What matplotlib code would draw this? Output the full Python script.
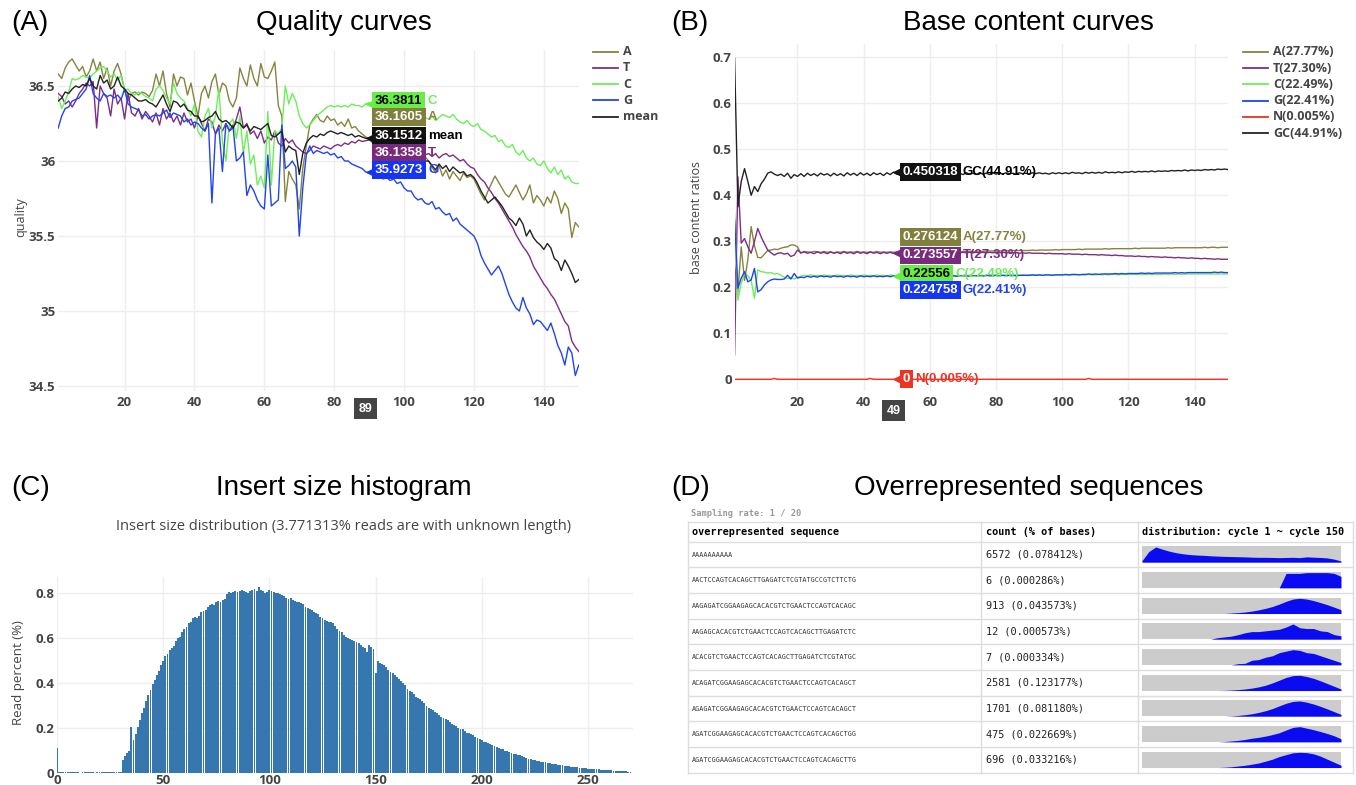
import matplotlib
matplotlib.use('Agg')
import matplotlib.pyplot as plt
import matplotlib.transforms as mtransforms

plt.rcParams['font.family'] = ['Open Sans', 'DejaVu Sans']

W, H = 1356, 785

# ---------------- (A) quality curves ----------------
cycles = list(range(1, 151))

qual_A = [
    36.58, 36.55, 36.62, 36.66, 36.68, 36.64, 36.60, 36.63, 36.56, 36.60,
    36.68, 36.60, 36.66, 36.55, 36.62, 36.50, 36.60, 36.65, 36.58, 36.47,
    36.40, 36.45, 36.46, 36.44, 36.46, 36.45, 36.43, 36.47, 36.58, 36.50,
    36.60, 36.45, 36.36, 36.58, 36.50, 36.56, 36.55, 36.44, 36.52, 36.40,
    36.30, 36.45, 36.50, 36.42, 36.53, 36.58, 36.44, 36.52, 36.50, 36.40,
    36.36, 36.42, 36.62, 36.55, 36.50, 36.64, 36.55, 36.50, 36.65, 36.56,
    36.55, 36.60, 36.66, 36.37, 36.30, 35.73, 35.93, 35.88, 35.84, 35.68,
    35.95, 36.10, 36.24, 36.28, 36.31, 36.27, 36.26, 36.30, 36.27, 36.28,
    36.24, 36.26, 36.23, 36.28, 36.22, 36.23, 36.20, 36.18, 36.1605, 36.15,
    36.12, 36.14, 36.10, 36.12, 36.08, 36.10, 36.06, 36.08, 36.05, 36.07,
    36.04, 36.06, 36.03, 36.05, 36.02, 36.03, 36.00, 35.96, 35.92, 35.97,
    35.90, 35.94, 35.88, 35.93, 35.90, 35.87, 35.92, 35.89, 35.90, 35.88,
    35.83, 35.78, 35.74, 35.80, 35.85, 35.90, 35.86, 35.82, 35.78, 35.76,
    35.80, 35.84, 35.79, 35.74, 35.78, 35.84, 35.72, 35.77, 35.74, 35.70,
    35.76, 35.72, 35.80, 35.75, 35.65, 35.72, 35.68, 35.49, 35.59, 35.56,
]
qual_T = [
    36.45, 36.43, 36.38, 36.40, 36.36, 36.40, 36.45, 36.48, 36.52, 36.50,
    36.53, 36.22, 36.50, 36.45, 36.42, 36.30, 36.48, 36.38, 36.42, 36.28,
    36.45, 36.32, 36.30, 36.35, 36.28, 36.33, 36.30, 36.26, 36.32, 36.24,
    36.35, 36.28, 36.32, 36.26, 36.30, 36.24, 36.32, 36.26, 36.28, 36.22,
    36.30, 36.25, 36.20, 36.28, 36.26, 36.18, 36.24, 36.20, 36.25, 36.20,
    36.22, 36.28, 36.36, 36.22, 36.25, 36.18, 36.20, 36.15, 36.20, 36.12,
    36.16, 36.14, 36.20, 36.12, 36.10, 36.15, 36.12, 36.14, 36.10, 36.08,
    36.06, 36.05, 36.07, 36.10, 36.09, 36.08, 36.10, 36.09, 36.08, 36.10,
    36.11, 36.10, 36.12, 36.11, 36.13, 36.12, 36.14, 36.13, 36.1358, 36.14,
    36.13, 36.12, 36.11, 36.10, 36.09, 36.08, 36.08, 36.07, 36.06, 36.07,
    36.05, 36.06, 36.05, 36.04, 36.06, 36.04, 36.05, 36.03, 36.05, 36.02,
    36.04, 36.05, 36.03, 36.04, 36.02, 36.00, 36.01, 35.98, 35.96, 35.95,
    35.91, 35.88, 35.86, 35.82, 35.79, 35.75, 35.72, 35.68, 35.64, 35.60,
    35.56, 35.51, 35.47, 35.43, 35.40, 35.36, 35.30, 35.26, 35.22, 35.18,
    35.15, 35.11, 35.08, 35.03, 34.98, 34.93, 34.90, 34.80, 34.76, 34.73,
]
qual_C = [
    36.43, 36.35, 36.40, 36.46, 36.55, 36.54, 36.55, 36.57, 36.56, 36.55,
    36.58, 36.60, 36.62, 36.63, 36.60, 36.56, 36.58, 36.54, 36.57, 36.47,
    36.48, 36.45, 36.44, 36.46, 36.45, 36.43, 36.42, 36.40, 36.48, 36.50,
    36.47, 36.42, 36.38, 36.52, 36.45, 36.42, 36.40, 36.35, 36.30, 36.38,
    36.20, 36.16, 36.30, 36.35, 36.22, 36.30, 36.48, 36.13, 36.00, 36.25,
    36.28, 36.15, 36.30, 36.05, 36.20, 35.98, 36.04, 35.84, 35.90, 35.82,
    36.33, 35.84, 36.20, 36.18, 36.22, 36.50, 36.38, 36.45, 36.40, 36.30,
    36.25, 36.22, 36.24, 36.27, 36.30, 36.32, 36.34, 36.36, 36.37, 36.36,
    36.37, 36.36, 36.37, 36.36, 36.38, 36.37, 36.37, 36.36, 36.3811, 36.39,
    36.37, 36.36, 36.34, 36.35, 36.33, 36.34, 36.31, 36.33, 36.30, 36.32,
    36.29, 36.31, 36.28, 36.30, 36.27, 36.29, 36.28, 36.30, 36.27, 36.29,
    36.31, 36.30, 36.29, 36.31, 36.28, 36.26, 36.25, 36.27, 36.24, 36.23,
    36.25, 36.21, 36.20, 36.18, 36.16, 36.17, 36.13, 36.14, 36.10, 36.09,
    36.11, 36.06, 36.04, 36.07, 36.02, 36.00, 36.02, 35.98, 35.97, 36.00,
    35.95, 35.92, 35.96, 35.91, 35.94, 35.88, 35.90, 35.86, 35.85, 35.85,
]
qual_G = [
    36.22, 36.30, 36.35, 36.36, 36.40, 36.41, 36.42, 36.45, 36.48, 36.57,
    36.45, 36.42, 36.40, 36.45, 36.43, 36.44, 36.42, 36.44, 36.41, 36.48,
    36.38, 36.36, 36.35, 36.34, 36.30, 36.31, 36.28, 36.30, 36.31, 36.30,
    36.32, 36.34, 36.29, 36.32, 36.31, 36.30, 36.26, 36.28, 36.24, 36.26,
    36.25, 36.22, 36.20, 36.25, 35.72, 36.18, 36.22, 35.93, 36.25, 36.20,
    36.24, 36.00, 36.02, 36.06, 35.77, 35.84, 35.80, 35.74, 35.70, 35.68,
    36.04, 35.70, 35.72, 35.74, 36.24, 35.95, 35.97, 36.00, 35.96, 35.50,
    35.82, 36.04, 36.10, 36.05, 36.07, 36.06, 36.05, 36.06, 36.04, 36.05,
    36.02, 36.03, 36.00, 36.00, 35.98, 35.97, 35.96, 35.95, 35.9273, 35.92,
    35.91, 35.90, 35.90, 35.88, 35.89, 35.87, 35.88, 35.85, 35.86, 35.82,
    35.80, 35.80, 35.76, 35.74, 35.75, 35.72, 35.71, 35.73, 35.68, 35.69,
    35.66, 35.64, 35.65, 35.60, 35.62, 35.58, 35.56, 35.54, 35.52, 35.50,
    35.45, 35.37, 35.32, 35.28, 35.24, 35.27, 35.30, 35.25, 35.18, 35.11,
    35.06, 35.02, 35.00, 35.09, 35.02, 34.98, 34.91, 34.94, 34.93, 34.90,
    34.87, 34.92, 34.85, 34.77, 34.72, 34.64, 34.76, 34.72, 34.57, 34.64,
]
qual_mean = [
    36.40, 36.42, 36.46, 36.45, 36.48, 36.50, 36.49, 36.51, 36.50, 36.55,
    36.50, 36.48, 36.57, 36.52, 36.54, 36.48, 36.50, 36.56, 36.50, 36.48,
    36.45, 36.44, 36.42, 36.40, 36.40, 36.41, 36.39, 36.38, 36.36, 36.40,
    36.44, 36.38, 36.33, 36.40, 36.39, 36.36, 36.38, 36.34, 36.33, 36.30,
    36.30, 36.26, 36.27, 36.29, 36.30, 36.33, 36.28, 36.26, 36.27, 36.25,
    36.22, 36.26, 36.25, 36.22, 36.24, 36.20, 36.23, 36.22, 36.21, 36.23,
    36.25, 36.17, 36.16, 36.18, 36.20, 36.06, 36.10, 36.08, 36.07, 35.91,
    36.05, 36.12, 36.15, 36.17, 36.16, 36.18, 36.17, 36.19, 36.20, 36.19,
    36.18, 36.19, 36.18, 36.17, 36.18, 36.16, 36.17, 36.16, 36.1512, 36.15,
    36.13, 36.14, 36.12, 36.11, 36.10, 36.09, 36.10, 36.08, 36.07, 36.06,
    36.05, 36.04, 36.03, 36.02, 36.01, 36.00, 36.00, 35.97, 35.94, 35.98,
    35.95, 35.97, 35.93, 35.96, 35.94, 35.92, 35.93, 35.90, 35.91, 35.89,
    35.85, 35.80, 35.76, 35.72, 35.74, 35.76, 35.73, 35.70, 35.66, 35.62,
    35.60, 35.57, 35.62, 35.58, 35.50, 35.54, 35.49, 35.46, 35.44, 35.41,
    35.45, 35.42, 35.35, 35.33, 35.27, 35.34, 35.30, 35.25, 35.19, 35.21,
]

# ---------------- (B) base content curves ----------------
base_A = [
    0.245, 0.190, 0.288, 0.215, 0.260, 0.332, 0.290, 0.265, 0.264, 0.272,
    0.280, 0.281, 0.283, 0.282, 0.285, 0.287, 0.288, 0.292, 0.292, 0.288,
    0.274, 0.278, 0.277, 0.276, 0.278, 0.277, 0.276, 0.278, 0.276, 0.277,
    0.275, 0.277, 0.276, 0.278, 0.276, 0.277, 0.276, 0.278, 0.276, 0.277,
    0.276, 0.277, 0.276, 0.278, 0.276, 0.277, 0.276, 0.277, 0.2761, 0.277,
    0.276, 0.277, 0.277, 0.276, 0.277, 0.277, 0.276, 0.277, 0.277, 0.277,
    0.277, 0.278, 0.277, 0.277, 0.278, 0.277, 0.278, 0.278, 0.277, 0.278,
    0.278, 0.278, 0.278, 0.278, 0.279, 0.278, 0.279, 0.279, 0.279, 0.279,
    0.279, 0.279, 0.280, 0.279, 0.280, 0.280, 0.280, 0.280, 0.280, 0.280,
    0.281, 0.280, 0.281, 0.281, 0.281, 0.281, 0.281, 0.282, 0.281, 0.282,
    0.282, 0.282, 0.282, 0.282, 0.283, 0.282, 0.283, 0.283, 0.283, 0.283,
    0.283, 0.283, 0.284, 0.283, 0.284, 0.284, 0.284, 0.284, 0.284, 0.284,
    0.284, 0.285, 0.284, 0.285, 0.285, 0.285, 0.285, 0.285, 0.285, 0.285,
    0.285, 0.286, 0.285, 0.286, 0.286, 0.286, 0.286, 0.286, 0.286, 0.286,
    0.286, 0.286, 0.287, 0.286, 0.287, 0.287, 0.286, 0.287, 0.287, 0.287,
]
base_T = [
    0.053, 0.440, 0.296, 0.306, 0.288, 0.274, 0.300, 0.328, 0.310, 0.295,
    0.281, 0.275, 0.270, 0.274, 0.275, 0.272, 0.274, 0.267, 0.270, 0.281,
    0.275, 0.277, 0.274, 0.276, 0.273, 0.277, 0.274, 0.276, 0.273, 0.277,
    0.274, 0.276, 0.273, 0.277, 0.274, 0.276, 0.273, 0.277, 0.274, 0.276,
    0.273, 0.277, 0.274, 0.276, 0.273, 0.276, 0.274, 0.276, 0.2736, 0.276,
    0.274, 0.276, 0.274, 0.276, 0.274, 0.276, 0.274, 0.276, 0.275, 0.276,
    0.274, 0.276, 0.274, 0.276, 0.275, 0.276, 0.274, 0.276, 0.275, 0.276,
    0.275, 0.276, 0.275, 0.276, 0.275, 0.276, 0.275, 0.276, 0.275, 0.276,
    0.275, 0.276, 0.275, 0.275, 0.275, 0.276, 0.274, 0.275, 0.274, 0.275,
    0.274, 0.274, 0.274, 0.274, 0.273, 0.274, 0.273, 0.273, 0.273, 0.273,
    0.272, 0.273, 0.272, 0.272, 0.272, 0.271, 0.272, 0.271, 0.271, 0.271,
    0.270, 0.271, 0.270, 0.270, 0.269, 0.270, 0.269, 0.269, 0.268, 0.268,
    0.268, 0.267, 0.268, 0.267, 0.267, 0.266, 0.267, 0.266, 0.266, 0.265,
    0.266, 0.265, 0.265, 0.264, 0.265, 0.264, 0.264, 0.263, 0.264, 0.263,
    0.263, 0.262, 0.263, 0.262, 0.262, 0.261, 0.262, 0.261, 0.261, 0.261,
]
base_C = [
    0.361, 0.172, 0.209, 0.230, 0.225, 0.215, 0.176, 0.238, 0.234, 0.233,
    0.231, 0.232, 0.229, 0.230, 0.226, 0.222, 0.219, 0.221, 0.218, 0.222,
    0.224, 0.226, 0.224, 0.227, 0.225, 0.226, 0.224, 0.227, 0.225, 0.226,
    0.224, 0.227, 0.225, 0.226, 0.224, 0.227, 0.225, 0.226, 0.224, 0.227,
    0.225, 0.226, 0.224, 0.227, 0.225, 0.226, 0.224, 0.227, 0.2256, 0.225,
    0.226, 0.225, 0.226, 0.225, 0.226, 0.225, 0.226, 0.225, 0.226, 0.225,
    0.226, 0.225, 0.226, 0.225, 0.226, 0.225, 0.226, 0.225, 0.226, 0.225,
    0.226, 0.226, 0.226, 0.225, 0.226, 0.226, 0.226, 0.226, 0.226, 0.226,
    0.226, 0.226, 0.227, 0.226, 0.226, 0.227, 0.226, 0.227, 0.226, 0.227,
    0.226, 0.227, 0.227, 0.226, 0.227, 0.227, 0.227, 0.227, 0.227, 0.227,
    0.227, 0.227, 0.227, 0.227, 0.228, 0.227, 0.227, 0.228, 0.227, 0.227,
    0.228, 0.227, 0.228, 0.227, 0.228, 0.228, 0.227, 0.228, 0.228, 0.228,
    0.228, 0.228, 0.228, 0.228, 0.228, 0.228, 0.228, 0.228, 0.228, 0.228,
    0.229, 0.228, 0.229, 0.228, 0.229, 0.228, 0.229, 0.229, 0.229, 0.229,
    0.229, 0.229, 0.229, 0.229, 0.229, 0.229, 0.229, 0.229, 0.229, 0.229,
]
base_G = [
    0.346, 0.198, 0.220, 0.234, 0.212, 0.216, 0.241, 0.190, 0.195, 0.205,
    0.212, 0.216, 0.218, 0.217, 0.217, 0.218, 0.226, 0.218, 0.230, 0.220,
    0.222, 0.221, 0.224, 0.222, 0.224, 0.222, 0.225, 0.223, 0.224, 0.222,
    0.225, 0.223, 0.224, 0.222, 0.225, 0.223, 0.224, 0.222, 0.225, 0.223,
    0.224, 0.223, 0.225, 0.223, 0.224, 0.223, 0.225, 0.223, 0.2248, 0.224,
    0.225, 0.224, 0.225, 0.224, 0.225, 0.224, 0.225, 0.224, 0.225, 0.224,
    0.225, 0.224, 0.225, 0.224, 0.225, 0.224, 0.225, 0.224, 0.225, 0.225,
    0.225, 0.224, 0.225, 0.225, 0.225, 0.224, 0.226, 0.225, 0.225, 0.226,
    0.225, 0.226, 0.225, 0.226, 0.226, 0.225, 0.226, 0.226, 0.226, 0.226,
    0.227, 0.226, 0.227, 0.226, 0.227, 0.227, 0.226, 0.227, 0.227, 0.227,
    0.228, 0.227, 0.228, 0.228, 0.227, 0.228, 0.228, 0.229, 0.228, 0.229,
    0.228, 0.229, 0.229, 0.229, 0.229, 0.230, 0.229, 0.230, 0.229, 0.230,
    0.230, 0.230, 0.230, 0.231, 0.230, 0.231, 0.230, 0.231, 0.231, 0.231,
    0.231, 0.231, 0.231, 0.232, 0.231, 0.232, 0.231, 0.232, 0.232, 0.232,
    0.232, 0.232, 0.232, 0.232, 0.232, 0.233, 0.232, 0.233, 0.232, 0.232,
]
base_N = [
    0, 0, 0, 0, 0, 0, 0, 0, 0, 0,
    0, 0, 0.002, 0, 0, 0, 0, 0, 0, 0,
    0, 0, 0, 0, 0, 0, 0, 0, 0, 0,
    0, 0, 0, 0, 0, 0, 0, 0, 0, 0,
    0, 0.002, 0, 0, 0, 0, 0, 0, 0, 0,
    0, 0, 0, 0, 0, 0, 0, 0, 0, 0,
    0, 0, 0, 0, 0, 0, 0, 0, 0, 0,
    0, 0, 0, 0, 0, 0, 0, 0, 0, 0,
    0, 0, 0, 0, 0, 0, 0, 0, 0, 0,
    0, 0, 0, 0, 0, 0, 0, 0, 0, 0,
    0, 0, 0, 0, 0, 0, 0, 0.002, 0, 0,
    0, 0, 0, 0, 0, 0, 0, 0, 0, 0,
    0, 0, 0, 0, 0, 0, 0, 0, 0, 0,
    0, 0, 0, 0, 0, 0, 0, 0, 0, 0,
    0, 0, 0, 0, 0, 0, 0, 0, 0, 0,
]
base_GC = [
    0.698, 0.375, 0.430, 0.458, 0.430, 0.400, 0.419, 0.408, 0.425, 0.435,
    0.448, 0.451, 0.446, 0.443, 0.446, 0.441, 0.448, 0.437, 0.445, 0.441,
    0.447, 0.441, 0.448, 0.443, 0.447, 0.442, 0.448, 0.444, 0.447, 0.442,
    0.448, 0.443, 0.447, 0.442, 0.449, 0.444, 0.448, 0.443, 0.449, 0.444,
    0.448, 0.443, 0.449, 0.445, 0.448, 0.443, 0.449, 0.445, 0.4503, 0.446,
    0.449, 0.445, 0.448, 0.444, 0.449, 0.445, 0.448, 0.444, 0.449, 0.445,
    0.448, 0.444, 0.449, 0.445, 0.448, 0.444, 0.449, 0.445, 0.448, 0.445,
    0.449, 0.446, 0.448, 0.445, 0.449, 0.446, 0.448, 0.445, 0.449, 0.446,
    0.448, 0.446, 0.449, 0.447, 0.448, 0.446, 0.449, 0.447, 0.448, 0.446,
    0.449, 0.447, 0.449, 0.447, 0.448, 0.446, 0.449, 0.447, 0.449, 0.447,
    0.449, 0.447, 0.450, 0.448, 0.449, 0.447, 0.450, 0.448, 0.450, 0.448,
    0.450, 0.448, 0.451, 0.449, 0.450, 0.449, 0.451, 0.449, 0.451, 0.450,
    0.452, 0.450, 0.452, 0.451, 0.452, 0.451, 0.453, 0.451, 0.453, 0.452,
    0.453, 0.452, 0.454, 0.453, 0.454, 0.453, 0.455, 0.453, 0.455, 0.454,
    0.455, 0.454, 0.456, 0.455, 0.456, 0.455, 0.457, 0.456, 0.457, 0.456,
]

# ---------------- (C) insert size histogram ----------------
insert_size = list(range(0, 271))
read_percent = [
    0.110,
    0.006, 0.004, 0.004, 0.003, 0.005, 0.003, 0.003, 0.004, 0.003, 0.003,
    0.002, 0.003, 0.003, 0.004, 0.003, 0.003, 0.003, 0.002, 0.003, 0.003,
    0.003, 0.003, 0.003, 0.003, 0.003, 0.003, 0.003, 0.003, 0.003, 0.003,
    0.060, 0.075, 0.090, 0.100, 0.205, 0.148, 0.175, 0.205, 0.235, 0.265,
    0.290, 0.320, 0.345, 0.370, 0.395, 0.415, 0.435, 0.455, 0.480, 0.500,
    0.520, 0.530, 0.545, 0.555, 0.565, 0.585, 0.600, 0.605, 0.625, 0.640,
    0.650, 0.665, 0.670, 0.690, 0.695, 0.690, 0.700, 0.715, 0.720, 0.725,
    0.740, 0.745, 0.750, 0.745, 0.760, 0.765, 0.760, 0.770, 0.775, 0.795,
    0.805, 0.800, 0.805, 0.810, 0.805, 0.810, 0.815, 0.810, 0.805, 0.800,
    0.810, 0.815, 0.820, 0.810, 0.828, 0.815, 0.810, 0.800, 0.805, 0.815,
    0.810, 0.805, 0.800, 0.800, 0.795, 0.790, 0.785, 0.780, 0.775, 0.780,
    0.770, 0.765, 0.760, 0.760, 0.755, 0.750, 0.740, 0.735, 0.730, 0.725,
    0.715, 0.710, 0.705, 0.695, 0.690, 0.680, 0.675, 0.670, 0.670, 0.665,
    0.655, 0.640, 0.630, 0.625, 0.615, 0.605, 0.600, 0.595, 0.590, 0.585,
    0.584, 0.578, 0.570, 0.562, 0.555, 0.540, 0.568, 0.560, 0.553, 0.443,
    0.500, 0.490, 0.485, 0.478, 0.470, 0.460, 0.450, 0.445, 0.435, 0.428,
    0.420, 0.410, 0.400, 0.390, 0.375, 0.365, 0.360, 0.350, 0.340, 0.335,
    0.328, 0.320, 0.310, 0.300, 0.290, 0.285, 0.278, 0.270, 0.265, 0.258,
    0.250, 0.245, 0.240, 0.235, 0.228, 0.220, 0.215, 0.208, 0.202, 0.196,
    0.194, 0.188, 0.180, 0.176, 0.172, 0.168, 0.162, 0.155, 0.150, 0.145,
    0.140, 0.137, 0.132, 0.130, 0.125, 0.120, 0.117, 0.113, 0.108, 0.105,
    0.100, 0.097, 0.095, 0.090, 0.086, 0.084, 0.080, 0.078, 0.076, 0.072,
    0.068, 0.064, 0.062, 0.060, 0.058, 0.055, 0.052, 0.050, 0.050, 0.047,
    0.045, 0.043, 0.041, 0.040, 0.039, 0.037, 0.035, 0.034, 0.033, 0.031,
    0.030, 0.028, 0.027, 0.026, 0.025, 0.024, 0.023, 0.022, 0.021, 0.020,
    0.019, 0.018, 0.017, 0.016, 0.016, 0.015, 0.015, 0.014, 0.013, 0.012,
    0.012, 0.011, 0.010, 0.010, 0.009, 0.008, 0.007, 0.007, 0.006, 0.006,
]

# ---------------- (D) overrepresented sequences ----------------
seqs = [
    "AAAAAAAAAA",
    "AACTCCAGTCACAGCTTGAGATCTCGTATGCCGTCTTCTG",
    "AAGAGATCGGAAGAGCACACGTCTGAACTCCAGTCACAGC",
    "AAGAGCACACGTCTGAACTCCAGTCACAGCTTGAGATCTC",
    "ACACGTCTGAACTCCAGTCACAGCTTGAGATCTCGTATGC",
    "ACAGATCGGAAGAGCACACGTCTGAACTCCAGTCACAGCT",
    "AGAGATCGGAAGAGCACACGTCTGAACTCCAGTCACAGCT",
    "AGATCGGAAGAGCACACGTCTGAACTCCAGTCACAGCTGG",
    "AGATCGGAAGAGCACACGTCTGAACTCCAGTCACAGCTTG",
]
counts = ["6572 (0.078412%)", "6 (0.000286%)", "913 (0.043573%)",
          "12 (0.000573%)", "7 (0.000334%)", "2581 (0.123177%)",
          "1701 (0.081180%)", "475 (0.022669%)", "696 (0.033216%)"]
dist_cycles = list(range(1, 151, 5))
dists = [
    [0.10, 0.70, 1.00, 0.85, 0.72, 0.62, 0.55, 0.50, 0.47, 0.45, 0.42, 0.40, 0.38, 0.37, 0.36,
     0.35, 0.33, 0.32, 0.32, 0.31, 0.30, 0.31, 0.32, 0.30, 0.35, 0.33, 0.31, 0.28, 0.20, 0.08],
    [0, 0, 0, 0, 0, 0, 0, 0, 0, 0, 0, 0, 0, 0, 0,
     0, 0, 0, 0, 0, 0, 0.95, 0.95, 0.95, 1.00, 1.00, 1.00, 1.00, 0.95, 0.75],
    [0, 0, 0, 0, 0, 0, 0, 0, 0, 0, 0, 0, 0, 0.03, 0.06,
     0.10, 0.16, 0.24, 0.34, 0.46, 0.62, 0.80, 0.95, 1.00, 0.95, 0.85, 0.72, 0.58, 0.42, 0.25],
    [0, 0, 0, 0, 0, 0, 0, 0, 0, 0, 0, 0.10, 0.15, 0.20, 0.30,
     0.42, 0.50, 0.50, 0.55, 0.60, 0.65, 0.80, 1.00, 0.75, 0.70, 0.70, 0.55, 0.50, 0.30, 0.22],
    [0, 0, 0, 0, 0, 0, 0, 0, 0, 0, 0, 0, 0, 0, 0.08,
     0.10, 0.30, 0.35, 0.50, 0.60, 0.80, 0.90, 1.00, 0.95, 0.80, 0.75, 0.60, 0.45, 0.30, 0.15],
    [0, 0, 0, 0, 0, 0, 0, 0, 0, 0, 0, 0, 0.01, 0.03, 0.06,
     0.10, 0.16, 0.24, 0.35, 0.50, 0.68, 0.86, 0.98, 1.00, 0.92, 0.80, 0.64, 0.46, 0.28, 0.10],
    [0, 0, 0, 0, 0, 0, 0, 0, 0, 0, 0, 0, 0, 0.02, 0.05,
     0.10, 0.16, 0.25, 0.36, 0.50, 0.68, 0.85, 0.97, 1.00, 0.92, 0.80, 0.65, 0.48, 0.30, 0.12],
    [0, 0, 0, 0, 0, 0, 0, 0, 0, 0, 0, 0, 0.02, 0.06, 0.10,
     0.16, 0.24, 0.30, 0.38, 0.48, 0.60, 0.78, 0.95, 1.00, 0.90, 0.80, 0.68, 0.55, 0.40, 0.20],
    [0, 0, 0, 0, 0, 0, 0, 0, 0, 0, 0, 0, 0.02, 0.05, 0.10,
     0.15, 0.22, 0.30, 0.42, 0.55, 0.72, 0.85, 0.97, 1.00, 0.98, 0.90, 0.75, 0.55, 0.35, 0.15],
]

# colours
cA, cT, cC, cG, cK, cN = '#85843f', '#7e2d82', '#6cee58', '#2244ee', '#222222', '#ee3322'
grey = '#444444'

fig = plt.figure(figsize=(W / 100, H / 100), dpi=100)


def px_axes(l, t, r, b):
    return fig.add_axes([l / W, 1 - b / H, (r - l) / W, (b - t) / H])


def style(ax, xt, xl, yt, yl, xgrid=True):
    for s in ax.spines.values():
        s.set_visible(False)
    ax.set_xticks(xt)
    ax.set_xticklabels(xl, fontsize=9.5, fontweight='bold', color=grey)
    ax.set_yticks(yt)
    ax.set_yticklabels(yl, fontsize=9.5, fontweight='bold', color=grey)
    ax.tick_params(length=0)
    ax.tick_params(axis='y', pad=2)
    ax.tick_params(axis='x', pad=4)
    ax.grid(axis='y', color='#eeeeee', lw=1)
    ax.grid(axis='x', color='#eeeeee', lw=1, visible=xgrid)
    ax.set_axisbelow(True)


def hover(ax, x, y, txt, name, fc, tc, nc, dy, arrow=False):
    t = ax.annotate(txt, xy=(x, y), xytext=(9, dy), textcoords='offset pixels',
                    ha='left', va='center', fontsize=9.5, fontweight='bold', color=tc,
                    family='Liberation Sans', annotation_clip=False, zorder=10,
                    bbox=dict(boxstyle='square,pad=0.22', fc=fc, ec='none'))
    ax.annotate(name, xy=(1, 0.5), xycoords=t, xytext=(5, 0), textcoords='offset pixels',
                ha='left', va='center', fontsize=9.5, fontweight='bold', color=nc,
                family='Liberation Sans', annotation_clip=False, zorder=10)
    if arrow:
        tr = mtransforms.offset_copy(ax.transData, fig=fig, x=4, y=0, units='dots')
        ax.plot([x], [y], marker='<', ms=7, color=fc, mec='none', transform=tr,
                clip_on=False, zorder=10)


def spike(ax, x, txt, dy):
    ax.annotate(txt, xy=(x, 0), xycoords=('data', 'axes fraction'), xytext=(0, dy),
                textcoords='offset pixels', ha='center', va='center', color='white',
                fontsize=9, fontweight='bold', family='Liberation Sans',
                annotation_clip=False, zorder=10,
                bbox=dict(boxstyle='square,pad=0.35', fc='#444444', ec='none'))


# ---- panel A ----
axA = px_axes(58.2, 50, 578.8, 390.5)
for vals, col in [(qual_A, cA), (qual_T, cT), (qual_C, cC), (qual_G, cG), (qual_mean, cK)]:
    axA.plot(cycles, vals, color=col, lw=1.0)
axA.set_xlim(1, 150)
axA.set_ylim(34.47, 36.74)
style(axA, [20, 40, 60, 80, 100, 120, 140], ['20', '40', '60', '80', '100', '120', '140'],
      [34.5, 35, 35.5, 36, 36.5], ['34.5', '35', '35.5', '36', '36.5'])
hover(axA, 89, qual_C[88], '36.3811', 'C', '#66ee44', 'black', cC, 3, arrow=True)
hover(axA, 89, qual_A[88], '36.1605', 'A', '#807f3c', 'white', cA, 20)
hover(axA, 89, qual_mean[88], '36.1512', 'mean', '#111111', 'white', 'black', 2, arrow=True)
hover(axA, 89, qual_T[88], '36.1358', 'T', '#7a2a7c', 'white', cT, -12)
hover(axA, 89, qual_G[88], '35.9273', 'G', '#1535f0', 'white', cG, 2, arrow=True)
spike(axA, 89, '89', -18)

# ---- panel B ----
axB = px_axes(734.6, 43.5, 1227.8, 390.8)
for vals, col in [(base_A, cA), (base_T, cT), (base_C, cC), (base_G, cG), (base_N, cN), (base_GC, cK)]:
    axB.plot(cycles, vals, color=col, lw=1.0)
axB.set_xlim(1, 150)
axB.set_ylim(-0.025, 0.73)
style(axB, [20, 40, 60, 80, 100, 120, 140], ['20', '40', '60', '80', '100', '120', '140'],
      [0, 0.1, 0.2, 0.3, 0.4, 0.5, 0.6, 0.7], ['0', '0.1', '0.2', '0.3', '0.4', '0.5', '0.6', '0.7'])
hover(axB, 49, base_GC[48], '0.450318', 'GC(44.91%)', '#111111', 'white', 'black', 0, arrow=True)
hover(axB, 49, base_A[48], '0.276124', 'A(27.77%)', '#807f3c', 'white', cA, 15)
hover(axB, 49, base_T[48], '0.273557', 'T(27.30%)', '#7a2a7c', 'white', cT, -2, arrow=True)
hover(axB, 49, base_C[48], '0.22556', 'C(22.49%)', '#66ee44', 'black', cC, 2, arrow=True)
hover(axB, 49, base_G[48], '0.224758', 'G(22.41%)', '#1535f0', 'white', cG, -14)
hover(axB, 49, base_N[48], '0', 'N(0.005%)', '#ee3322', 'white', cN, 0, arrow=True)
spike(axB, 49, '49', -20)

# ---- panel C ----
axC = px_axes(57, 577.3, 633, 773)
axC.bar(insert_size, read_percent, width=0.88, color='#3777b0', linewidth=0)
axC.set_xlim(0, 271.2)
axC.set_ylim(0, 0.87)
style(axC, [0, 50, 100, 150, 200, 250], ['0', '50', '100', '150', '200', '250'],
      [0, 0.2, 0.4, 0.6, 0.8], ['0', '0.2', '0.4', '0.6', '0.8'], xgrid=False)
axC.tick_params(axis='x', pad=1)

# ---- overlay: titles, legends, table ----
ov = fig.add_axes([0, 0, 1, 1])
ov.set_xlim(0, W)
ov.set_ylim(H, 0)
ov.axis('off')
ov.set_zorder(5)

tfont = dict(fontsize=20, family='Liberation Sans', color='black', va='center')
for x, y, s in [(11, 23, '(A)'), (671, 23, '(B)'), (11, 488, '(C)'), (671, 488, '(D)')]:
    ov.text(x, y, s, ha='left', **tfont)
for x, y, s in [(344, 23, 'Quality curves'), (1028, 23, 'Base content curves'),
                (344, 488, 'Insert size histogram'), (1029, 488, 'Overrepresented sequences')]:
    ov.text(x, y, s, ha='center', **tfont)

ov.text(344, 527, 'Insert size distribution (3.771313% reads are with unknown length)',
        ha='center', va='center', fontsize=10.5, color=grey)
ov.text(21, 217, 'quality', rotation=90, ha='center', va='center', fontsize=9, color=grey)
ov.text(697, 218, 'base content ratios', rotation=90, ha='center', va='center', fontsize=9, color=grey)
ov.text(19, 673, 'Read percent (%)', rotation=90, ha='center', va='center', fontsize=9.5, color=grey)

legA = [('A', cA), ('T', cT), ('C', cC), ('G', cG), ('mean', cK)]
for i, (lab, col) in enumerate(legA):
    y = 51.7 + 16.2 * i
    ov.plot([593, 618], [y, y], color=col, lw=1.3)
    ov.text(623, y, lab, ha='left', va='center', fontsize=9, fontweight='bold', color=grey)
legB = [('A(27.77%)', cA), ('T(27.30%)', cT), ('C(22.49%)', cC), ('G(22.41%)', cG),
        ('N(0.005%)', cN), ('GC(44.91%)', cK)]
for i, (lab, col) in enumerate(legB):
    y = 51.7 + 16.3 * i
    ov.plot([1243, 1268], [y, y], color=col, lw=1.3)
    ov.text(1273, y, lab, ha='left', va='center', fontsize=9, fontweight='bold', color=grey)

# table
mono = 'DejaVu Sans Mono'
ov.text(691, 513, 'Sampling rate: 1 / 20', ha='left', va='center', fontsize=6.3,
        fontweight='bold', color='#999999', family=mono)
t_top, h_bot, row_h = 521.7, 541.7, 25.67
col_x = [688, 981.4, 1137.5, 1353]
n_rows = len(seqs)
t_bot = h_bot + row_h * n_rows
lc = '#dddddd'
for x in col_x:
    ov.plot([x, x], [t_top, t_bot], color=lc, lw=1)
for y in [t_top, h_bot] + [h_bot + row_h * (k + 1) for k in range(n_rows)]:
    ov.plot([col_x[0], col_x[-1]], [y, y], color=lc, lw=1)
hy = (t_top + h_bot) / 2
for x, s in [(692, 'overrepresented sequence'), (985.7, 'count (% of bases)'),
             (1141.8, 'distribution: cycle 1 ~ cycle 150')]:
    ov.text(x, hy, s, ha='left', va='center', fontsize=7.3, fontweight='bold', color='black', family=mono)
for k in range(n_rows):
    rt = h_bot + row_h * k
    yc = rt + row_h / 2
    ov.text(692, yc, seqs[k], ha='left', va='center', fontsize=4.9, color='#333333', family=mono)
    ov.text(985.7, yc, counts[k], ha='left', va='center', fontsize=7.4, color='#222222', family=mono)
    mini = px_axes(1142, rt + 4.5, 1341, rt + 20.5)
    mini.set_facecolor('#cccccc')
    mini.fill_between(dist_cycles, dists[k], 0, color='#0b0bf2', lw=0)
    mini.set_xlim(1, 146)
    mini.set_ylim(0, 1.05)
    mini.set_xticks([])
    mini.set_yticks([])
    for s in mini.spines.values():
        s.set_visible(False)

fig.savefig('out.png', dpi=100, facecolor='white')
